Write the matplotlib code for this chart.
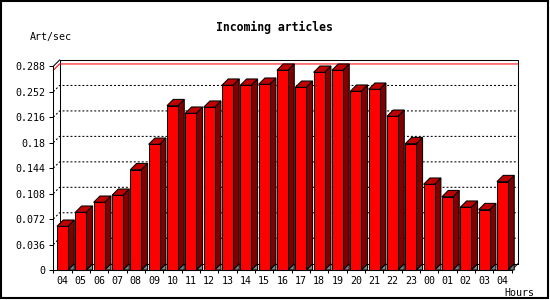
import numpy as np
import matplotlib
matplotlib.use('Agg')
import matplotlib.pyplot as plt
from matplotlib.patches import Polygon, Rectangle

plt.rcParams['font.family'] = 'DejaVu Sans Mono'

#%% data
hours = ['04', '05', '06', '07', '08', '09', '10', '11', '12', '13', '14', '15',
         '16', '17', '18', '19', '20', '21', '22', '23', '00', '01', '02', '03', '04']
values = [0.0618, 0.0816, 0.0957, 0.1056, 0.1418, 0.1777, 0.2323, 0.2216, 0.2301,
          0.2612, 0.2612, 0.2626, 0.2824, 0.2583, 0.2795, 0.2824, 0.2527, 0.2555,
          0.2173, 0.1786, 0.1212, 0.1036, 0.0887, 0.0853, 0.1249]
yticks = [0, 0.036, 0.072, 0.108, 0.144, 0.18, 0.216, 0.252, 0.288]

#%% figure
W, H = 550, 300
fig = plt.figure(figsize=(W / 100, H / 100), dpi=100)
fig.patch.set_facecolor('white')
# axes = front plane of the 3d box (pixels)
axl, axb, axw, axh = 53.3, 30.0, 458.3, 203.7
ax = fig.add_axes([axl / W, axb / H, axw / W, axh / H])
n = len(hours)
ymax = yticks[-1]
ax.set_xlim(0, n)
ax.set_ylim(0, ymax)
ax.patch.set_alpha(0)

depth = 6.3  # px
dx = depth / axw * n
dy = depth / axh * ymax
lw = 0.75
dots = (0, (1.9, 1.9))

# back wall frame
ax.plot([dx, dx, n + dx, n + dx], [dy, ymax + dy, ymax + dy, dy],
        color='black', lw=lw, clip_on=False, zorder=1)
ax.plot([dx, n + dx], [dy, dy], color='black', lw=lw, clip_on=False, zorder=1)
ax.plot([0, dx], [ymax, ymax + dy], color='black', lw=lw, clip_on=False, zorder=1)
ax.plot([n, n + dx], [0, dy], color='black', lw=lw, clip_on=False, zorder=1)

# grid on the back wall
for t in yticks[1:-1]:
    ax.plot([0, dx, n + dx], [t, t + dy, t + dy], color='black', lw=lw,
            ls=dots, clip_on=False, zorder=1)

# max value line
vmax = max(values)
ax.plot([0, dx, n + dx], [vmax, vmax + dy, vmax + dy], color='red', lw=lw,
        clip_on=False, zorder=1.5)

# 3d bars
w = 0.6
for i, v in enumerate(values):
    x0 = i + 0.5 - w / 2
    x1 = x0 + w
    z = 2 + i * 0.01
    ax.add_patch(Polygon([(x1, 0), (x1 + dx, dy), (x1 + dx, 0)], closed=True,
                         fc='#808080', ec='black', lw=lw, clip_on=False, zorder=z))
    ax.add_patch(Polygon([(x1, 0), (x1 + dx, dy), (x1 + dx, v + dy), (x1, v)], closed=True,
                         fc='#800000', ec='black', lw=lw, clip_on=False, zorder=z))
    ax.add_patch(Polygon([(x0, v), (x0 + dx, v + dy), (x1 + dx, v + dy), (x1, v)], closed=True,
                         fc='#c00000', ec='black', lw=lw, clip_on=False, zorder=z))
    ax.bar(i + 0.5, v, width=w, color='#ff0000', edgecolor='black', lw=lw,
           clip_on=False, zorder=z + 0.005)

# axes / ticks
for s in ['top', 'right']:
    ax.spines[s].set_visible(False)
for s in ['left', 'bottom']:
    ax.spines[s].set_linewidth(lw)
    ax.spines[s].set_zorder(5)

ax.set_yticks(yticks, labels=['%g' % t for t in yticks])
ax.tick_params(axis='y', direction='out', length=3, width=lw, pad=2.5, labelsize=7.2)
ax.set_xticks(np.arange(n + 1))
ax.set_xticklabels([])
ax.tick_params(axis='x', which='major', direction='out', length=2.5, width=lw)
ax.set_xticks(np.arange(n) + 0.5, minor=True)
ax.set_xticklabels(hours, minor=True)
ax.tick_params(axis='x', which='minor', length=0, pad=4, labelsize=7.2)

# texts
fig.text(274 / W, 1 - 27 / H, 'Incoming articles', ha='center', va='center',
         fontsize=8.3, fontweight='bold')
fig.text(30 / W, 1 - 37 / H, 'Art/sec', ha='left', va='center', fontsize=7.2)
fig.text(504 / W, 1 - 292.5 / H, 'Hours', ha='left', va='center', fontsize=7.2)

# outer border
fig.patches.append(Rectangle((1 / W, 2 / H), 547 / W, 297 / H, transform=fig.transFigure,
                             fill=False, ec='black', lw=1.5))

fig.savefig('out.png', dpi=100)
